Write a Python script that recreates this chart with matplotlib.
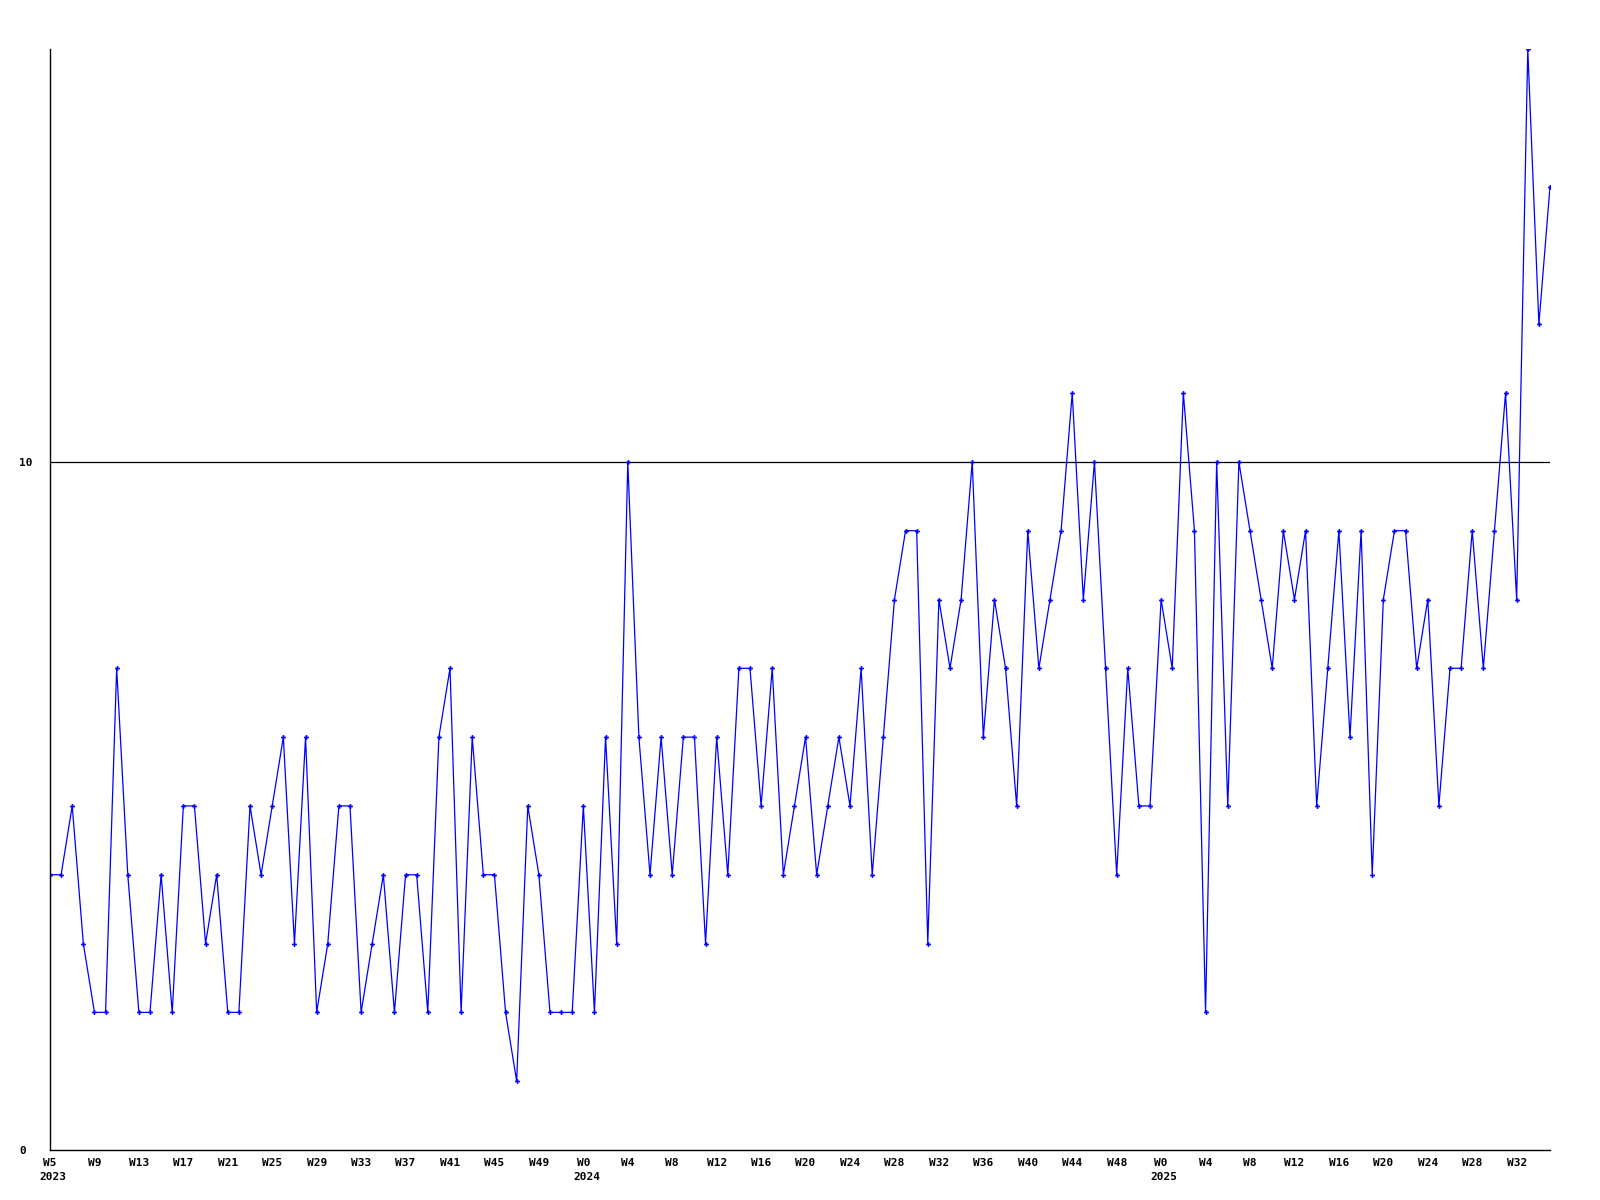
import matplotlib
matplotlib.use("Agg")
import matplotlib.pyplot as plt
import matplotlib.transforms as mtransforms

# weekly counts, 2023 W5 .. 2025 W35
counts = [
    4, 4, 5, 3, 2, 2, 7, 4, 2, 2, 4, 2, 5, 5, 3, 4, 2, 2, 5, 4,
    5, 6, 3, 6, 2, 3, 5, 5, 2, 3, 4, 2, 4, 4, 2, 6, 7, 2, 6, 4,
    4, 2, 1, 5, 4, 2, 2, 2, 5, 2, 6, 3, 10, 6, 4, 6, 4, 6, 6, 3,
    6, 4, 7, 7, 5, 7, 4, 5, 6, 4, 5, 6, 5, 7, 4, 6, 8, 9, 9, 3,
    8, 7, 8, 10, 6, 8, 7, 5, 9, 7, 8, 9, 11, 8, 10, 7, 4, 7, 5, 5,
    8, 7, 11, 9, 2, 10, 5, 10, 9, 8, 7, 9, 8, 9, 5, 7, 9, 6, 9, 4,
    8, 9, 9, 7, 8, 5, 7, 7, 9, 7, 9, 11, 8, 16, 12, 14,
]

week_ticks = list(range(0, 133, 4))
week_labels = [
    "W5", "W9", "W13", "W17", "W21", "W25", "W29", "W33", "W37", "W41", "W45", "W49",
    "W0", "W4", "W8", "W12", "W16", "W20", "W24", "W28", "W32", "W36", "W40", "W44", "W48",
    "W0", "W4", "W8", "W12", "W16", "W20", "W24", "W28", "W32",
]
year_pos = [0, 48, 100]
year_labels = ["2023", "2024", "2025"]

font = {"family": "DejaVu Sans Mono", "weight": "bold", "size": 8}

fig = plt.figure(figsize=(16, 12), dpi=100)
ax = fig.add_axes([50 / 1600, 1 - 1150 / 1200, 1500 / 1600, 1101 / 1200])

x = list(range(len(counts)))
ax.plot(x, counts, color="#0000ff", lw=0.9, marker="P", ms=3.5, mew=0)
ax.axhline(10, color="black", lw=0.9, zorder=0)

ax.set_xlim(0, len(counts) - 1)
ax.set_ylim(0, 16)

for side in ["top", "right"]:
    ax.spines[side].set_visible(False)
for side in ["left", "bottom"]:
    ax.spines[side].set_linewidth(1.0)

ax.set_xticks(week_ticks)
ax.set_xticklabels(week_labels, fontdict=font)
ax.tick_params(axis="x", length=0, pad=6)

ax.set_yticks([0, 10])
ax.set_yticklabels(["0", "10"], fontdict=font, ha="left")
ax.tick_params(axis="y", length=0, pad=22)

# year under the first week of each year
trans = mtransforms.offset_copy(ax.get_xaxis_transform(), fig=fig, x=-7.5, y=-15.5, units="points")
for pos, lab in zip(year_pos, year_labels):
    ax.text(pos, 0, lab, transform=trans, ha="left", va="top", **font)

fig.savefig("out.png", dpi=100, facecolor="white")
